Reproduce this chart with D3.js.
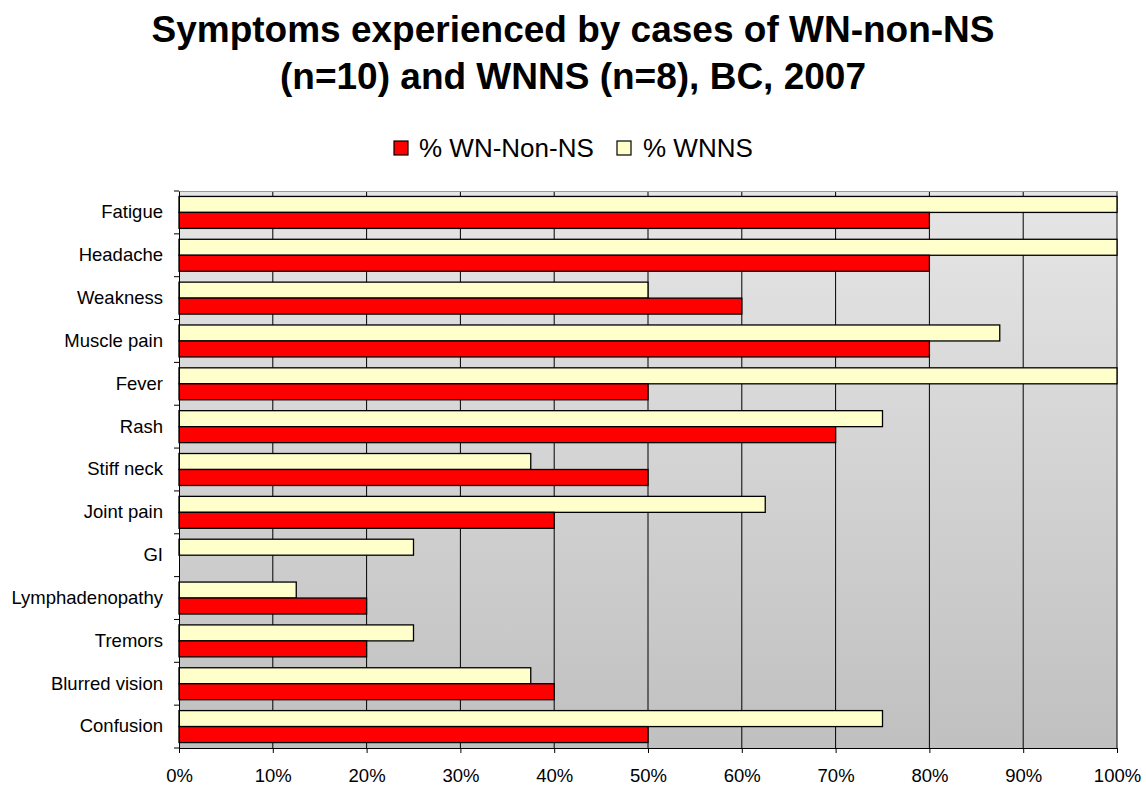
<!DOCTYPE html>
<html><head><meta charset="utf-8">
<script src="https://cdn.jsdelivr.net/npm/d3@7"></script>
<style>body{margin:0;background:#fff}svg{display:block}text{font-family:"Liberation Sans",Arial,sans-serif}</style>
</head><body>
<svg id="c" width="1146" height="785"></svg>
<script>
const categories = ["Fatigue","Headache","Weakness","Muscle pain","Fever","Rash","Stiff neck","Joint pain","GI","Lymphadenopathy","Tremors","Blurred vision","Confusion"];
const wnNonNS = [80,80,60,80,50,70,50,40,0,20,20,40,50];
const wnns = [100,100,50,87.5,100,75,37.5,62.5,25,12.5,25,37.5,75];
const xTicks = [0,10,20,30,40,50,60,70,80,90,100];
const seriesNames = ["% WN-Non-NS","% WNNS"];
const seriesColors = ["#ff0000","#ffffcc"];

const svg = d3.select("#c");
const L=179, R=1117, T=191, B=748;
const FONT = "Liberation Sans, Arial, sans-serif";
const x = d3.scaleLinear().domain([0,100]).range([L,R]);
const y = d3.scaleBand().domain(categories).range([T,B]);
const inner = d3.scaleBand().domain(["wnns","wn"]).range([0,y.bandwidth()]).paddingOuter(0.34).paddingInner(0);

const defs = svg.append("defs");
const g = defs.append("linearGradient").attr("id","bg").attr("x1",0).attr("y1",0).attr("x2",0).attr("y2",1);
g.append("stop").attr("offset","0%").attr("stop-color","#e6e6e6");
g.append("stop").attr("offset","100%").attr("stop-color","#c0c0c0");

svg.append("rect").attr("x",L).attr("y",T).attr("width",R-L).attr("height",B-T).attr("fill","url(#bg)");

// gridlines
svg.append("g").selectAll("line").data(xTicks.slice(1)).join("line")
  .attr("x1",d=>x(d)).attr("x2",d=>x(d)).attr("y1",T).attr("y2",B)
  .attr("stroke","#000").attr("stroke-width",1);
svg.append("line").attr("x1",L).attr("x2",R).attr("y1",T+0.5).attr("y2",T+0.5).attr("stroke","#999");

// bars
const rows = categories.map((c,i)=>({c, wn:wnNonNS[i], wnns:wnns[i]}));
const bars = svg.append("g");
rows.forEach(r=>{
  bars.append("rect").attr("x",x(0)).attr("y",y(r.c)+inner("wnns")).attr("width",x(r.wnns)-x(0)).attr("height",inner.bandwidth())
    .attr("fill",seriesColors[1]).attr("stroke","#000").attr("stroke-width",1.3);
  if (r.wn>0) bars.append("rect").attr("x",x(0)).attr("y",y(r.c)+inner("wn")).attr("width",x(r.wn)-x(0)).attr("height",inner.bandwidth())
    .attr("fill",seriesColors[0]).attr("stroke","#000").attr("stroke-width",1.3);
});

// x axis
const xa = svg.append("g").attr("transform",`translate(0,${B})`)
  .call(d3.axisBottom(x).tickValues(xTicks).tickFormat(d=>d+"%").tickSize(5).tickSizeOuter(0).tickPadding(16));
xa.select(".domain").attr("stroke","#000");
xa.selectAll("text").attr("font-size",18.5).attr("fill","#000").style("font-family",FONT);
xa.selectAll("line").attr("stroke","#000");

// y axis
const ya = svg.append("g").attr("transform",`translate(${L},0)`)
  .call(d3.axisLeft(y).tickSize(0).tickPadding(16));
ya.select(".domain").attr("stroke","#000");
ya.selectAll("text").attr("font-size",18.5).attr("fill","#000").style("font-family",FONT);
const bounds = categories.map(c=>y(c)).concat([B]);
svg.append("g").selectAll("line").data(bounds).join("line")
  .attr("x1",L-5).attr("x2",L).attr("y1",d=>d).attr("y2",d=>d).attr("stroke","#000");

// title
const title = svg.append("text").attr("text-anchor","middle").attr("font-weight","bold").attr("font-size",37).attr("fill","#000");
title.append("tspan").attr("x",573).attr("y",41.5).text("Symptoms experienced by cases of WN-non-NS");
title.append("tspan").attr("x",573).attr("y",88.5).text("(n=10) and WNNS (n=8), BC, 2007");

// legend
const leg = svg.append("g");
const items = [{n:seriesNames[0],c:seriesColors[0],bx:394,tx:419},{n:seriesNames[1],c:seriesColors[1],bx:617,tx:643}];
items.forEach(it=>{
  leg.append("rect").attr("x",it.bx).attr("y",141).attr("width",14).attr("height",14).attr("fill",it.c).attr("stroke","#000").attr("stroke-width",1.2);
  leg.append("text").attr("x",it.tx).attr("y",157).attr("font-size",26).attr("fill","#000").text(it.n);
});
</script>
</body></html>
